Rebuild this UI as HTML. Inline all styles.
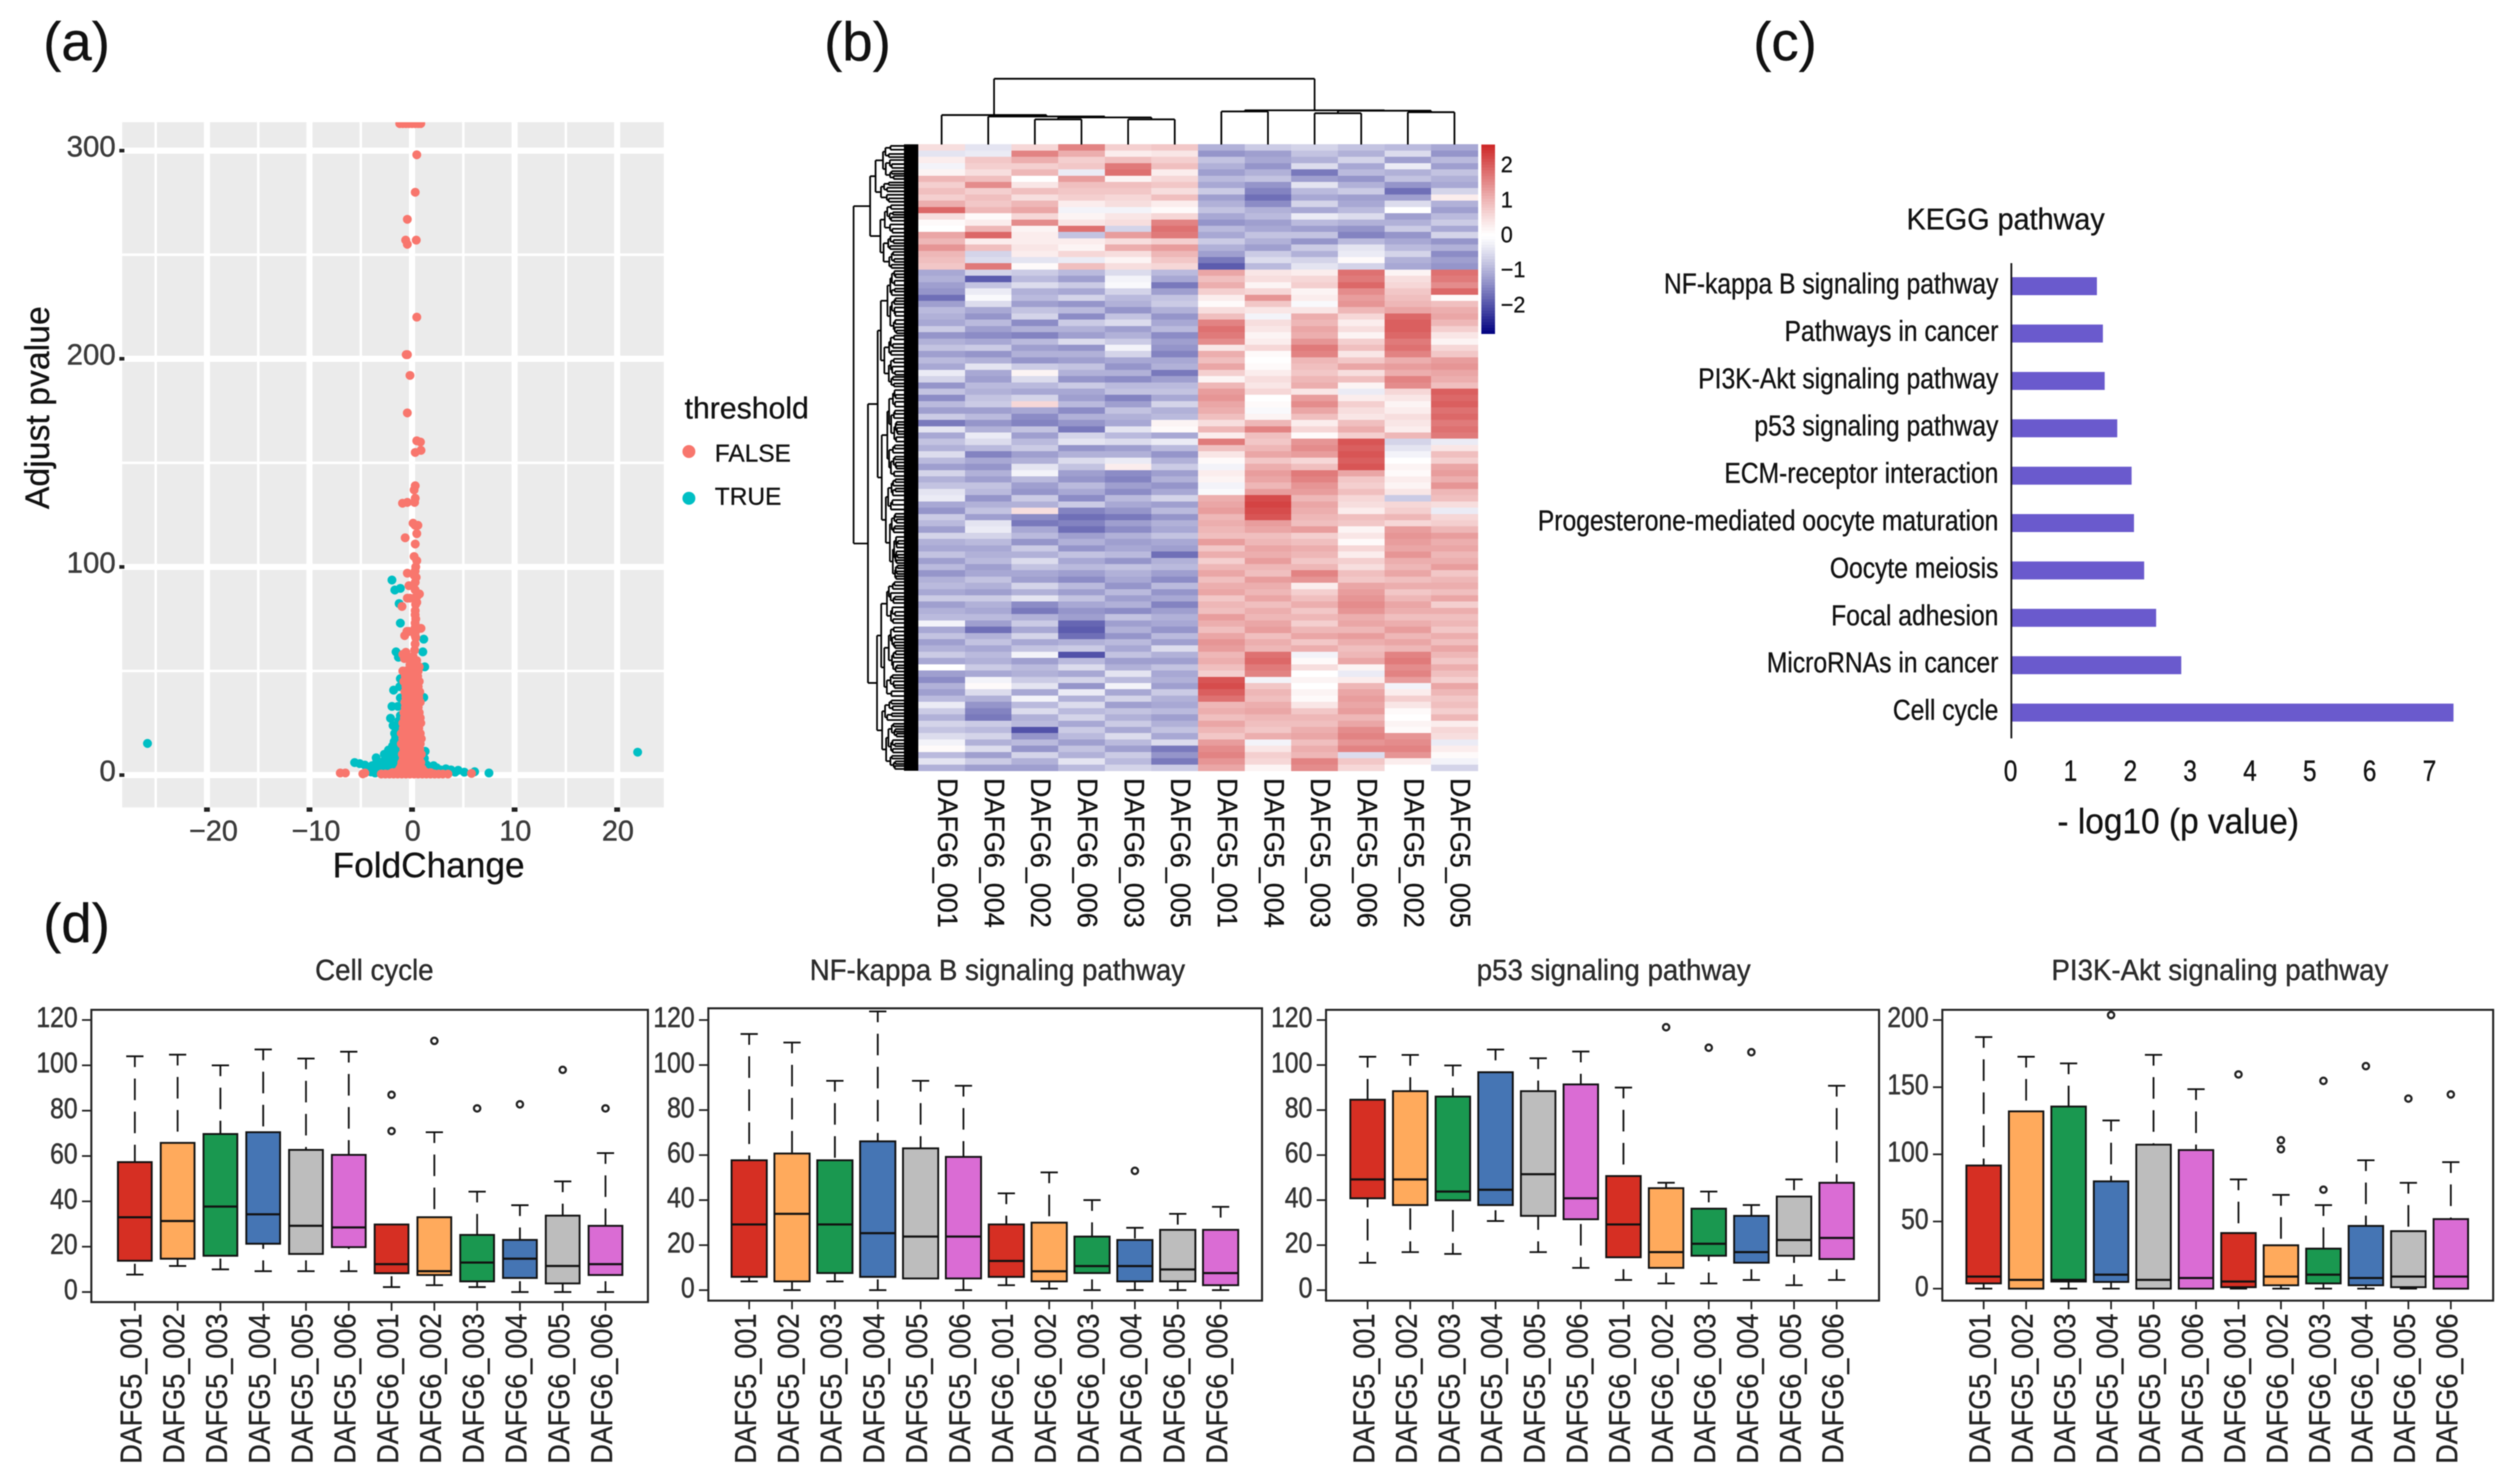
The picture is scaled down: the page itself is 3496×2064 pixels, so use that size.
<!DOCTYPE html>
<html lang="en">
<head>
<meta charset="utf-8">
<title>Differential expression figure panels a to d</title>
<style>
html,body{margin:0;padding:0;background:#fff;}
svg{display:block;font-family:"Liberation Sans",Arial,sans-serif;filter:blur(0.7px);}
text{stroke:#222;stroke-width:0.45px;}
</style>
</head>
<body>
<svg id="fig" xmlns="http://www.w3.org/2000/svg" width="3496" height="2064" viewBox="0 0 3496 2064">
  <rect x="0" y="0" width="3496" height="2064" fill="#ffffff"/>
  <defs>
    <clipPath id="volcano-clip"><rect x="170" y="170" width="753" height="953"/></clipPath>
  </defs>
  <text x="60" y="84" font-size="76" fill="#111">(a)</text>
  <text x="1146" y="84" font-size="76" fill="#111">(b)</text>
  <text x="2438" y="84" font-size="76" fill="#111">(c)</text>
  <text x="60" y="1310" font-size="76" fill="#111">(d)</text>

  <g id="panel-a">
    <rect x="170" y="170" width="753" height="953" fill="#ebebeb"/>
    <g id="a-grid"></g>
    <g id="a-true" clip-path="url(#volcano-clip)"></g>
    <g id="a-false" clip-path="url(#volcano-clip)"></g>
    <g id="a-axes"></g>
    <text x="596" y="1220" font-size="49" fill="#111" text-anchor="middle">FoldChange</text>
    <text transform="translate(68,567) rotate(-90)" font-size="47" fill="#111" text-anchor="middle">Adjust pvalue</text>
    <text x="952" y="582" font-size="42" fill="#111">threshold</text>
    <circle cx="958" cy="628" r="9" fill="#F8766D"/>
    <text x="994" y="642" font-size="34" fill="#111">FALSE</text>
    <circle cx="958" cy="693" r="9" fill="#00BFC4"/>
    <text x="994" y="702" font-size="34" fill="#111">TRUE</text>
  </g>

  <g id="panel-b">
    <g id="b-cells" shape-rendering="crispEdges"></g>
    <g id="b-left-dendro"></g>
    <g id="b-top-dendro"></g>
    <g id="b-labels"></g>
    <g id="b-colorbar" shape-rendering="crispEdges"></g>
    <g id="b-colorbar-labels"></g>
  </g>

  <g id="panel-c">
    <text transform="translate(2789,319) scale(1,1.05)" font-size="40" fill="#111" text-anchor="middle">KEGG pathway</text>
    <g id="c-bars"></g>
    <line x1="2797" x2="2797" y1="366" y2="1027" stroke="#111" stroke-width="2.5"/>
    <g id="c-ticks"></g>
    <text transform="translate(3029,1159) scale(1,1.05)" font-size="46.5" fill="#111" text-anchor="middle">- log10 (p value)</text>
  </g>

  <g id="panel-d"></g>
</svg>
<script>
// ---------- Panel (a): volcano data, pairs of [fold change, adjusted p value] ----------
const volcanoTrue = [
[-25.8,15.2],[22,11],[-1.96,93.7],[-1.68,88.9],[-1.14,89.7],[-1.26,82.4],[-1.14,73],[1.14,65.3],[-1.56,59.2],[-1.33,56.6],
[1.05,59.2],[1.24,52],[-1.14,46.3],[-1.8,40.8],[-1.2,42.5],[-1.14,37.1],[1.14,37.3],[-1.96,33],[-1.37,33],[-1.14,28.6],
[-2.1,27.3],[-1.85,23.8],[-1.7,20],[-1.4,20],[-1.75,16],[-1.4,16],[-1.2,16],[-1.8,12],[-1.5,12],[-1.2,12],
[-2.3,9],[-1.9,9],[-1.5,9],[-1.2,9],[-2.4,6],[-2,6],[-1.6,6],[-1.2,6],[-2.5,3],[-2,3],[-1.6,3],
[-2.7,10],[-2.7,7],[-2.9,4],[-3.2,5],[-4,1.5],[-3.9,4.5],[-4.3,2.5],[-2.3,12],[-1.9,14],[-1.6,18],[-2.2,1.5],[-2.8,1.5],[-1.5,23],[-1.3,26],
[-3.5,8.3],[-3.5,5.7],[-5.6,6],[-4.6,4.8],[-3.8,2.8],[-3.3,2.8],[-3.6,1],[-2.9,1.5],[-5.1,5.5],[-4.2,3.5],
[1.28,11.4],[1.4,5],[1.2,8],[2.1,4.5],[1.7,3.5],[2.8,2.5],[3.8,2.5],[4.5,2.3],[4.2,1.4],[5.1,1.4],[6.1,1.6],[7.5,1],[3.3,3],[2.4,3.5]
];
const volcanoFalse = [
[-1.2,313],[-0.9,313],[-0.6,313],[-0.3,313],[0,313],[0.3,313],[0.6,313],[0.85,313],
[0.46,298],[0.31,280],[-0.46,267],[0.41,257],[-0.62,257],[-0.46,255],[0.46,220],[-0.57,202],[-0.45,202],[-0.2,192],[-0.46,174],
[0.46,160.6],[0.82,160],[0.31,155],[0.87,156],[0.31,139],[0.2,137],[0.31,133],[0.25,131],[-0.93,130.6],[-0.46,131],
[0.1,121],[0.3,120],[0.57,120],[0.46,116],[-0.67,114],[0.31,111],[0.2,105],[0.46,103],[0.36,100],[-0.46,97],[0.2,96],[0.31,92.6],[-0.3,91],
[0.72,87],[0.5,86],[-0.46,85],[-0.2,85],[0.2,85],[0.46,83],[-0.98,81],[0.31,79],[0.36,75],[0.31,71],[0.87,70.5],[-0.3,69],[-0.72,67],[-0.5,69],
[0.3,98],[0.4,95],[0.3,89],[0.35,82],[0.3,77],[0.3,73],[0.35,69],[0.3,67],
[0.36,66],[0.3,63],[0.25,60],[-0.9,58],[-0.6,59],[-0.35,56],[-0.75,56],[0.45,55],[0.1,57],[0.7,52],[-0.2,53],[0.2,54],
[-0.9,50],[-0.6,50],[-0.3,50],[0,50],[0.3,50],[0.6,50],
[-0.65,47.5],[-0.35,47.5],[-0.05,47.5],[0.25,47.5],[0.55,47.5],
[-0.8,45],[-0.5,45],[-0.2,45],[0.1,45],[0.4,45],[0.7,45],
[-0.6,42.5],[-0.3,42.5],[0,42.5],[0.3,42.5],[0.6,42.5],
[-0.7,40],[-0.4,40],[-0.1,40],[0.2,40],[0.5,40],[0.75,40],
[-0.6,37.5],[-0.3,37.5],[0,37.5],[0.3,37.5],[0.65,37.5],
[-0.7,35],[-0.4,35],[-0.1,35],[0.2,35],[0.5,35],[0.8,35],
[-0.65,32.5],[-0.35,32.5],[-0.05,32.5],[0.3,32.5],[0.6,32.5],
[-0.8,30],[-0.5,30],[-0.2,30],[0.1,30],[0.4,30],[0.7,30],
[-0.75,27.5],[-0.45,27.5],[-0.15,27.5],[0.2,27.5],[0.5,27.5],[0.8,27.5],
[-0.9,25],[-0.6,25],[-0.3,25],[0,25],[0.3,25],[0.6,25],[0.85,25],
[-0.85,22.5],[-0.55,22.5],[-0.25,22.5],[0.05,22.5],[0.35,22.5],[0.65,22.5],
[-1.05,20],[-0.7,20],[-0.4,20],[-0.1,20],[0.2,20],[0.5,20],[0.8,20],
[-0.9,17.5],[-0.55,17.5],[-0.25,17.5],[0.05,17.5],[0.35,17.5],[0.65,17.5],[0.9,17.5],
[-1.05,15],[-0.7,15],[-0.4,15],[-0.1,15],[0.2,15],[0.5,15],[0.8,15],
[-0.8,12.5],[-0.45,12.5],[-0.15,12.5],[0.15,12.5],[0.45,12.5],[0.75,12.5],
[-0.95,10],[-0.6,10],[-0.3,10],[0,10],[0.3,10],[0.6,10],[0.9,10],
[-0.85,8],[-0.55,8],[-0.25,8],[0.05,8],[0.35,8],[0.7,8],
[-1,6],[-0.7,6],[-0.4,6],[-0.1,6],[0.2,6],[0.5,6],[0.85,6],
[-1.05,4.5],[-0.65,4.5],[-0.3,4.5],[0,4.5],[0.35,4.5],[0.75,4.5],
[-1.2,3],[-0.8,3],[-0.5,3],[-0.2,3],[0.1,3],[0.4,3],[0.7,3],[1,3],
[-1.9,1.2],[-1.5,1.5],[-1.1,1.5],[-0.7,1.5],[-0.3,1.5],[0.1,1.5],[0.5,1.5],[0.9,1.5],[1.3,1.5],[1.8,1.2],
[-3,0.5],[-2.6,0.5],[-2.2,0.5],[-1.8,0.5],[-1.4,0.5],[-1,0.5],[-0.6,0.5],[-0.2,0.5],[0.2,0.5],[0.6,0.5],[1,0.5],[1.4,0.5],[1.8,0.5],[2.2,0.5],[2.6,0.5],[3,0.5],[3.5,0.5],
[-7,1],[-6.5,1],[-4.6,1],[-4.8,0.6],[5.8,0.8]
];
const volcanoXTicks = [-20,-10,0,10,20];
const volcanoXMinor = [-25,-15,-5,5,15];
const volcanoYTicks = [0,100,200,300];
const volcanoYMinor = [50,150,250];

// ---------- Panel (b): heatmap z-scores ----------
const heatmapColumns = ['DAFG6_001','DAFG6_004','DAFG6_002','DAFG6_006','DAFG6_003','DAFG6_005','DAFG5_001','DAFG5_004','DAFG5_003','DAFG5_006','DAFG5_002','DAFG5_005'];
const heatmapRows = [
[.5,-.4,.6,1.6,.7,.8,-1.0,-.7,-.6,-.8,-.9,-1.1],
[-.4,-.3,1.6,1.1,.3,.4,-1.3,-1.2,-.8,-1.0,-.5,-1.3],
[.3,.8,1.1,.7,.9,.7,-.8,-1.1,-1.0,-.6,-1.2,-.9],
[-.2,.7,.7,.8,1.7,.9,-1.0,-1.3,-.5,-1.1,-.3,-1.2],
[.2,.5,1.0,-.3,1.8,.3,-1.2,-1.0,-1.6,-.9,-1.0,-.8],
[1.0,.9,.0,1.3,.2,.6,-.9,-.8,-1.2,-1.3,-.8,-1.0],
[.7,1.5,.4,.9,.9,.8,-1.1,-1.3,-.4,-1.0,-1.3,-1.1],
[.9,.7,.9,.8,.8,.5,-.7,-1.5,-.9,-.7,-1.7,-.6],
[.7,.9,.5,.7,.6,.9,-1.2,-1.7,-1.1,-1.2,-1.2,.3],
[1.1,.8,1.0,.3,.5,.3,-1.0,-1.4,-.6,-1.1,-.5,-1.0],
[1.9,1.0,1.2,-.2,-.2,.1,-.8,-1.0,-1.1,-.9,.0,-1.2],
[.5,.1,.6,.2,.4,.6,-1.1,-.9,-.3,-.5,-1.2,-.9],
[.1,.3,1.5,.4,.5,1.6,-1.3,-1.2,-.9,-1.0,-1.0,-.7],
[.0,1.0,.2,1.8,-.6,1.8,-.9,-1.1,-1.2,-1.3,-.7,-1.1],
[1.2,1.9,.3,-.8,1.3,1.7,-1.1,-.8,-.8,-1.5,-1.3,-.6],
[1.0,.3,.3,.3,.5,.7,-.7,-1.0,-1.3,-.9,-1.1,-1.3],
[1.4,.9,.4,.2,1.1,1.3,-1.0,-1.2,-.7,-.4,-.9,-1.0],
[1.0,-.6,.3,.6,.5,1.0,-1.2,-.7,-1.0,-.3,-.6,-1.4],
[.9,-.5,-.4,-.3,.2,.8,-1.6,-.5,-.6,.1,-1.0,-1.2],
[.8,1.7,.1,.9,.5,.6,-1.9,-.9,-.4,-.6,-1.1,-1.3],
[-1.1,-.6,-.7,-.9,-.5,-.9,1.2,.4,.3,1.8,.2,1.8],
[-1.0,-1.9,-.9,-1.2,-.2,-1.1,.9,.5,.6,1.7,.5,1.7],
[-1.2,-.8,-.5,-.7,-.1,-1.6,1.1,.2,.7,1.9,.6,1.5],
[-1.3,-.3,-1.0,-1.1,-.6,-1.2,.7,.6,.2,1.5,.8,1.9],
[-1.7,-.1,-.9,-.6,-.9,-.8,.3,1.4,.3,1.3,.9,.1],
[-1.2,-.5,-1.2,-1.3,-1.0,-.7,.1,.8,-.1,1.4,1.0,.9],
[-.9,-1.1,-.8,-.9,-1.3,-1.0,.5,.4,.4,1.0,1.2,1.1],
[-1.0,-1.3,-.6,-1.4,-.8,-1.3,.9,-.2,1.1,.6,1.9,1.2],
[-1.1,-.9,-1.4,-.7,-.5,-1.1,1.6,.5,1.0,.3,2.0,1.0],
[-.7,-1.2,-1.0,-1.0,-1.2,-.9,1.8,.4,1.2,.5,2.0,.7],
[-1.3,-1.4,-1.5,-1.2,-1.0,-1.4,1.7,.2,1.1,.2,1.9,.4],
[-1.0,-1.1,-.9,-.5,-.7,-1.2,1.5,.3,1.4,.7,1.7,.2],
[-.8,-.7,-1.2,-1.3,-.2,-1.3,.4,.6,1.7,.9,1.8,.6],
[-1.2,-1.3,-1.0,-1.0,-.6,-1.5,1.1,.1,1.6,.4,1.6,.8],
[-.9,-1.0,-1.3,-1.2,-1.1,-1.1,.9,.0,1.0,.8,1.1,1.3],
[-1.1,-.4,-.7,-.8,-1.3,-1.0,1.2,.1,.9,1.2,1.3,1.4],
[-.3,-1.1,.2,-1.0,-1.0,-1.6,.7,.3,.8,.5,1.1,1.2],
[-.6,-1.2,-.5,-1.3,-1.4,-1.2,.2,.5,1.0,.9,1.6,1.1],
[-1.3,-.9,-.9,-.7,-.9,-.9,1.0,.4,1.1,.2,1.5,.9],
[-.8,-1.0,-1.1,-1.1,-.8,-.8,1.3,.6,.4,-.3,.6,2.0],
[-1.4,-.8,-.6,-1.2,-1.5,-1.1,1.4,.0,1.3,.3,.4,1.9],
[-.9,-.7,.6,-.9,-1.2,-.6,1.2,.1,1.5,.7,.2,2.0],
[-1.2,-1.2,-1.1,-1.4,-.8,-1.0,1.1,-.1,1.2,.5,.3,1.8],
[-.7,-.9,-1.4,-1.0,-1.0,-.9,.9,.2,.9,.4,.5,1.9],
[-1.6,-1.3,-1.5,-1.3,-1.1,.2,.5,1.0,.3,.9,.4,1.7],
[-.4,-1.0,-.8,-1.6,-.4,.1,1.0,1.6,.6,1.1,.3,1.8],
[-1.1,-.3,-1.2,-.6,-.9,-1.1,.3,.9,.1,.7,1.0,1.7],
[-.8,-.5,-.9,-.4,-.5,-.3,1.7,.8,1.4,2.1,-.6,-.3],
[-1.0,-.9,-.7,-1.3,-1.2,-.9,.9,1.0,1.5,2.0,-.4,.4],
[-.5,-1.5,-1.2,-1.0,-1.0,-1.3,.4,1.2,1.3,2.1,-.2,.9],
[-.9,-1.1,-1.0,-.5,-.3,-1.0,.1,.8,.6,2.0,.0,.7],
[-1.2,-1.3,-.4,-.8,.3,-.7,-.2,1.1,.9,2.1,.2,1.2],
[-.6,-1.0,-.2,-1.2,-1.4,-1.2,.3,1.3,1.7,1.2,.1,1.3],
[-1.0,-1.2,-.9,-1.3,-1.5,-1.0,.2,1.2,1.6,.8,.3,1.1],
[-.8,-.8,-1.2,-.9,-1.2,-1.3,-.2,1.0,1.4,.7,.2,1.4],
[-.4,-.9,-1.3,-1.1,-1.4,-1.1,-.1,1.3,1.3,.9,.4,1.0],
[-.3,-1.3,-.7,-1.4,-.9,-.6,1.1,2.2,1.0,.6,-.7,.9],
[-1.1,-1.0,-1.0,-.7,-1.1,-1.2,1.2,2.3,1.2,.5,.6,.5],
[-1.3,-.8,.5,-1.5,-1.3,-.9,1.3,2.2,1.1,.3,.7,-.3],
[-.7,-1.2,-1.4,-1.7,-1.6,-1.3,1.0,2.1,1.0,.9,1.0,.6],
[-.9,-.4,-1.6,-1.5,-1.2,-1.0,1.1,1.3,.9,.8,.6,.7],
[-1.2,-.3,-1.1,-1.7,-1.4,-1.1,1.0,1.2,1.3,.2,1.3,1.0],
[-.6,-.6,-.9,-1.2,-1.0,-.8,.9,.9,.7,.4,1.4,1.3],
[-1.0,-.9,-1.3,-1.0,-1.2,-1.1,1.3,1.0,.9,.1,1.3,1.1],
[-1.1,-1.1,-.7,-1.3,-1.1,-1.2,.8,1.2,1.1,.6,1.2,1.2],
[-.8,-1.0,-1.0,-.8,-.9,-1.7,1.1,1.1,1.0,.3,1.4,1.0],
[-1.2,-.9,-.5,-1.1,-1.3,-1.0,.7,1.3,.8,.7,1.1,1.1],
[-.9,-1.2,-.8,-.9,-.8,-.9,1.0,1.0,1.0,.5,1.0,1.3],
[-1.3,-1.1,-1.1,-1.2,-1.0,-1.2,1.2,.9,1.6,.9,1.2,.8],
[-1.0,-.8,-1.2,-1.4,-1.1,-1.4,.9,1.3,1.4,.8,.9,1.0],
[-.9,-1.0,-.6,-.9,-1.3,-.9,1.1,1.1,.3,1.2,1.1,1.1],
[-1.1,-1.2,-1.0,-1.2,-.9,-1.3,1.2,1.0,.7,1.3,.8,.9],
[-.7,-.7,-.4,-.8,-1.2,-1.1,.8,1.2,.9,1.4,1.0,1.2],
[-1.2,-1.0,-1.4,-1.1,-1.0,-1.5,1.0,.9,1.1,1.5,1.2,.7],
[-1.0,-1.1,-1.6,-1.3,-1.4,-1.2,.9,1.1,.8,1.4,1.1,1.1],
[-.9,-.9,-1.0,-1.2,-.8,-1.0,1.3,1.0,1.0,1.1,.9,.9],
[-.2,-1.2,-.7,-1.8,-1.2,-1.1,1.1,1.2,.7,1.2,1.1,1.0],
[-1.1,-1.7,-1.1,-1.9,-1.0,-1.3,.9,1.3,1.0,1.0,1.3,.8],
[-.8,-1.0,-.6,-1.7,-1.3,-.9,1.2,.9,1.2,1.3,1.0,1.1],
[-1.2,-.8,-1.1,-1.0,-.9,-1.2,1.4,1.1,.8,1.1,1.2,.9],
[-1.0,-1.1,-.8,-.7,-1.1,-.5,1.3,1.0,1.1,.9,1.0,1.2],
[-.7,-.9,-.2,-2.0,-.8,-1.0,1.0,1.8,-.2,1.0,1.6,1.0],
[-1.1,-1.0,-1.2,-.9,-1.2,-1.2,1.1,1.9,.1,1.2,1.7,.8],
[.0,-.7,-.9,-.5,-1.0,-.8,.9,1.7,.5,.2,1.5,1.1],
[-1.2,-1.1,-1.0,-1.1,-.4,-1.1,.7,1.6,.0,-.3,1.6,.9],
[-1.4,-.2,-.7,-.6,-.9,-1.0,2.1,-.2,.2,.3,1.3,.7],
[-1.0,.1,-.4,-1.3,-.2,-1.2,2.2,.8,.0,1.0,-.2,1.2],
[-1.2,-.5,-1.1,-.3,-1.1,-.7,2.0,1.0,.2,1.2,.3,1.0],
[-.9,-1.0,-.2,-1.0,-.6,-1.0,1.8,.9,.1,1.3,.7,.8],
[-.3,-1.3,-.9,-.5,-1.2,-1.1,1.0,1.1,.4,1.2,.4,.9],
[-.7,-1.5,-.5,-.9,-.8,-.9,1.1,1.2,.8,1.3,.1,.7],
[-1.0,-1.6,-1.0,-.6,-1.0,-1.2,.9,1.0,1.0,1.0,.0,1.0],
[-.6,-.7,-.9,-1.1,-.7,-1.0,1.2,.9,.9,1.2,.2,.3],
[-.8,-.9,-2.0,-.7,-1.1,-.8,1.0,.8,1.1,1.5,.1,.6],
[-.5,-.6,-1.3,-.9,-.5,-1.1,.8,1.1,1.2,1.6,1.4,.5],
[-.2,-1.0,-.9,-1.2,-.9,-.5,1.3,-.2,.9,1.4,1.5,-.3],
[.1,-.5,-1.3,-.8,-1.2,-1.6,1.5,.4,1.1,1.6,1.6,.3],
[-.9,-1.2,-.6,-1.0,-.7,-1.3,1.6,.7,1.0,-.5,1.4,.1],
[-.4,-.7,-1.0,-.4,-.9,-1.6,1.4,.6,1.6,.8,.3,-.2],
[-1.0,-1.2,-1.2,-.9,-.6,-.7,1.2,.2,1.5,.6,.0,-.6]
];
const colorbarTicks = [2,1,0,-1,-2];
// column tree: [left child, right child, merge height]; integers are column indices
const columnTree = [
  [0,[1,[[2,3,35],[4,5,35],37.7],39],41],
  [[6,7,46],[[8,9,43.5],[10,11,45],47],47.6],
  91.5
];
const rowTreeSplits = [.47,.62,.38,.55,.42,.66,.5,.33,.58];
const rowTreeReach = [.18,.3,.14,.34,.22,.16,.28];

// ---------- Panel (c): KEGG enrichment ----------
const keggPathways = ['NF-kappa B signaling pathway','Pathways in cancer','PI3K-Akt signaling pathway','p53 signaling pathway','ECM-receptor interaction','Progesterone-mediated oocyte maturation','Oocyte meiosis','Focal adhesion','MicroRNAs in cancer','Cell cycle'];
const keggLog10P = [1.43,1.53,1.56,1.77,2.01,2.05,2.22,2.42,2.84,7.39];
const keggTicks = [0,1,2,3,4,5,6,7];

// ---------- Panel (d): boxplot statistics ----------
const boxSamples = ['DAFG5_001','DAFG5_002','DAFG5_003','DAFG5_004','DAFG5_005','DAFG5_006','DAFG6_001','DAFG6_002','DAFG6_003','DAFG6_004','DAFG6_005','DAFG6_006'];
const boxColors = ['#d62f23','#ffaa5c','#1a9850','#4575b4','#bdbdbd','#da6cd4','#d62f23','#ffaa5c','#1a9850','#4575b4','#bdbdbd','#da6cd4'];

const cellCycleLow = [7.7,11.5,10,9.2,9.2,9.2,2.2,3,2.2,0,0,0];
const cellCycleQ1 = [13.8,14.7,16,21.3,16.8,19.8,8.3,7.5,4.7,6.2,3.8,7.5];
const cellCycleMedian = [33,31.3,37.7,34.3,29.2,28.5,12.3,9.2,13,14.7,11.5,12.3];
const cellCycleQ3 = [57.3,65.8,69.7,70.5,62.7,60.5,29.8,33,25.2,23,33.7,29.2];
const cellCycleHigh = [104,104.7,100,107,103,106,29.8,70.5,44.3,38.3,48.8,61.3];
const cellCycleOutliers = [[],[],[],[],[],[],[87,71],[110.8],[81],[82.8],[98],[81]];

const nfkbLow = [3.9,0,3.9,0,5.2,0,2.2,0.7,0,0,0,0];
const nfkbQ1 = [5.9,3.9,7.6,5.9,5.2,5.2,5.9,3.9,7.6,3.9,3.9,2.2];
const nfkbMedian = [29.2,33.9,29.2,25.3,23.8,23.8,13,8.4,10.7,10.7,9.2,7.6];
const nfkbQ3 = [57.7,60.7,57.7,66.1,63,59.2,29.2,30,23.8,22.3,26.8,26.8];
const nfkbHigh = [113.8,110,93,123.8,93,90.8,43,52.3,40,27.7,33.9,37];
const nfkbOutliers = [[],[],[],[],[],[],[],[],[],[53],[],[]];

const p53Low = [12.2,16.9,16.1,30.7,16.9,9.9,4.5,3,3,4.5,2.2,4.5];
const p53Q1 = [40.8,37.8,39.9,37.8,33,31.5,14.6,9.9,15.3,12.2,15.3,13.8];
const p53Median = [49.2,49.2,43.8,44.6,51.5,40.8,29.2,16.9,20.6,16.9,22.3,23.2];
const p53Q3 = [84.6,88.4,86,96.8,88.4,91.4,50.7,45.3,36.2,33,41.6,47.7];
const p53High = [103.7,104.5,99.8,106.9,103,106,90,47.7,43.8,37.8,49.2,90.8];
const p53Outliers = [[],[],[],[],[],[],[],[116.8],[107.7],[105.7],[],[]];

const pi3kLow = [0,0,0,0,0,0,0,0,0,0,0,0];
const pi3kQ1 = [3.9,0,5.3,5,0,0,1.1,2.5,3.9,2.5,1.1,0];
const pi3kMedian = [9,6.5,6.5,10.4,6.5,7.9,5.3,9,10.4,7.9,9,9];
const pi3kQ3 = [91.7,132,135.6,79.9,107.2,103.2,41.4,32.3,29.8,46.7,42.8,51.8];
const pi3kHigh = [187.3,172.7,167.7,125.2,174.1,148.5,81.3,69.8,62.2,95.6,78.8,94.2];
const pi3kOutliers = [[],[],[],[203.7],[],[],[159.5],[110.5,103.8],[154.7,73.7],[165.7],[141.5],[144.6]];

const tickCount120 = [0,20,40,60,80,100,120];
const tickCount200 = [0,50,100,150,200];

// ---------- helpers ----------
const NS = 'http://www.w3.org/2000/svg';
function mk(parent, tag, attrs) {
  const node = document.createElementNS(NS, tag);
  for (const k in attrs) node.setAttribute(k, attrs[k]);
  parent.appendChild(node);
  return node;
}
function label(parent, str, x, y, size, anchor, rot, sy, fill) {
  const node = mk(parent, 'text', {
    transform: 'translate(' + x + ',' + y + ') rotate(' + rot + ') scale(1,' + sy + ')',
    'font-size': size, 'text-anchor': anchor, fill: fill
  });
  node.textContent = str;
  return node;
}
const $ = id => document.getElementById(id);
let el;

// ---------- Panel (a) ----------
const volX = v => 573 + v * 14.26;
const volY = v => 1078 - v * 2.895;
const aGrid = $('a-grid'), aAxes = $('a-axes');
volcanoXMinor.forEach(v => {
  el = mk(aGrid, 'line', {x1: volX(v), x2: volX(v), y1: 170, y2: 1123, stroke: '#fff', 'stroke-width': 3.5});
  
  
});
volcanoYMinor.forEach(v => {
  el = mk(aGrid, 'line', {x1: 170, x2: 923, y1: volY(v), y2: volY(v), stroke: '#fff', 'stroke-width': 3.5});
  
  
});
volcanoXTicks.forEach(v => {
  el = mk(aGrid, 'line', {x1: volX(v), x2: volX(v), y1: 170, y2: 1123, stroke: '#fff', 'stroke-width': 8.5});
  
  
  el = mk(aAxes, 'rect', {x: volX(v) - 4, y: 1123, width: 8, height: 6, fill: '#222'});
  
  
  el = label(aAxes, v < 0 ? '\u2212' + Math.abs(v) : String(v), volX(v) + (v < 0 ? 9 : 1), 1169, 40, 'middle', 0, 1, '#3c3c3c');
  
  
});
volcanoYTicks.forEach(v => {
  el = mk(aGrid, 'line', {x1: 170, x2: 923, y1: volY(v), y2: volY(v), stroke: '#fff', 'stroke-width': 8.5});
  
  
  el = mk(aAxes, 'rect', {x: 166, y: volY(v) - 2.5, width: 7, height: 5, fill: '#222'});
  
  
  el = label(aAxes, String(v), 161, volY(v) + 8, 41, 'end', 0, 1, '#3c3c3c');
  
  
});
volcanoTrue.forEach(d => {
  el = mk($('a-true'), 'circle', {cx: volX(d[0]), cy: volY(d[1]), r: 6.2, fill: '#00BFC4'});
  
  
});
volcanoFalse.forEach(d => {
  el = mk($('a-false'), 'circle', {cx: volX(d[0]), cy: volY(d[1]), r: 6.2, fill: '#F8766D'});
  
  
});

// ---------- Panel (b) ----------
const hmLeft = 1277, hmTop = 200.7, hmCellW = 778 / 12, hmRowH = 871.3 / heatmapRows.length;
const colX = i => hmLeft + (i + 0.5) * hmCellW;
function heatColor(v) {
  const mix = (a, b, t) => Math.round(a + (b - a) * t);
  if (v >= 0) {
    const t = Math.pow(Math.min(v / 2.6, 1), 1.15);
    return 'rgb(' + mix(255, 205, t) + ',' + mix(255, 38, t) + ',' + mix(255, 38, t) + ')';
  }
  const t = Math.pow(Math.min(-v / 2.8, 1), 1.15);
  return 'rgb(' + mix(255, 0, t) + ',' + mix(255, 0, t) + ',' + mix(255, 128, t) + ')';
}
heatmapRows.forEach((row, r) => {
  row.forEach((v, c) => {
    el = mk($('b-cells'), 'rect', {x: hmLeft + c * hmCellW, y: hmTop + r * hmRowH, width: hmCellW + 0.5, height: hmRowH + 0.5, fill: heatColor(v)});
    
    
  });
});
heatmapColumns.forEach((name, i) => {
  el = label($('b-labels'), name, colX(i) - 5, 1082, 37.5, 'start', 90, 1.05, '#111');
  
  
});
// colorbar
const cbZero = 326, cbUnit = 48.7;
const cbTop = 201, cbBottom = 464, cbSlices = 66;
for (let i = 0; i < cbSlices; i++) {
  const y = cbTop + i * (cbBottom - cbTop) / cbSlices;
  el = mk($('b-colorbar'), 'rect', {x: 2060, y: y, width: 19, height: (cbBottom - cbTop) / cbSlices + 0.5, fill: heatColor((cbZero - y) / cbUnit)});
  
  
}
colorbarTicks.forEach(v => {
  el = label($('b-colorbar-labels'), v < 0 ? '\u2212' + Math.abs(v) : String(v), 2087, cbZero - v * cbUnit + 11, 30, 'start', 0, 1.05, '#111');
  
  
});
// row dendrogram
const leafX = 1258;
mk($('b-left-dendro'), 'rect', {x: 1257, y: hmTop, width: 20, height: 871.3, fill: '#000'});
let splitI = 0, reachI = 0;
function dline(x1, y1, x2, y2) {
  el = mk($('b-left-dendro'), 'line', {x1: x1, y1: y1, x2: x2, y2: y2, stroke: '#000', 'stroke-width': 2.4});
  
  
}
function rowNode(y0, y1, x) {
  const s = rowTreeSplits[splitI++ % rowTreeSplits.length];
  const mid = y0 + (y1 - y0) * s;
  const child = (a, b) => {
    if (b - a < 7) return [(a + b) / 2, leafX];
    const cx = x + (leafX - 6 - x) * rowTreeReach[reachI++ % rowTreeReach.length];
    return [rowNode(a, b, cx), cx];
  };
  const top = child(y0, mid), bot = child(mid, y1);
  dline(x, top[0], x, bot[0]);
  dline(x, top[0], top[1], top[0]);
  dline(x, bot[0], bot[1], bot[0]);
  return (top[0] + bot[0]) / 2;
}
const upperY = rowNode(hmTop, hmTop + 20 * hmRowH, 1210);
const lowerY = rowNode(hmTop + 20 * hmRowH, hmTop + 871.3, 1207);
dline(1187, upperY, 1187, lowerY);
dline(1187, upperY, 1210, upperY);
dline(1187, lowerY, 1207, lowerY);
// column dendrogram
const treeY = h => 201 - h;
function colLine(x1, y1, x2, y2) {
  el = mk($('b-top-dendro'), 'line', {x1: x1, y1: y1, x2: x2, y2: y2, stroke: '#000', 'stroke-width': 2.4});
  
  
}
function colNode(n) {
  if (typeof n === 'number') return [colX(n), 0];
  const a = colNode(n[0]), b = colNode(n[1]);
  const y = treeY(n[2]);
  colLine(a[0], y, b[0], y);
  colLine(a[0], y, a[0], treeY(a[1]));
  colLine(b[0], y, b[0], treeY(b[1]));
  return [(a[0] + b[0]) / 2, n[2]];
}
colNode(columnTree);

// ---------- Panel (c) ----------
const keggX = v => 2797 + v * 83.2;
const keggY = i => 398 + i * 65.9;
keggPathways.forEach((name, i) => {
  el = mk($('c-bars'), 'rect', {x: keggX(0), y: keggY(i) - 12.5, width: keggX(keggLog10P[i]) - keggX(0), height: 25, fill: '#6a5acd'});
  
  
  el = label($('c-bars'), name, 2779, keggY(i) + 10, 34.3, 'end', 0, 1.15, '#111');
  
  
});
keggTicks.forEach(v => {
  el = label($('c-ticks'), String(v), keggX(v) - 1, 1086, 34, 'middle', 0, 1.2, '#111');
  
  
});

// ---------- Panel (d) ----------
function drawBoxPanel(p) {
  const g = mk($('panel-d'), 'g', {});
  
  
  const y = v => p.zero - v * p.unit;
  const x = i => p.firstX + i * p.stepX;

  el = label(g, p.title, p.titleX, 1363, 38.5, 'middle', 0, 1.05, '#2b2b2b');
  
  

  p.ticks.forEach(v => {
    el = mk(g, 'line', {x1: p.x0 - 13, x2: p.x0, y1: y(v), y2: y(v), stroke: '#222', 'stroke-width': 2.4});
    
    
    el = label(g, String(v), p.x0 - 19, y(v) + 10, 34.5, 'end', 0, 1.15, '#333');
    
    
  });

  boxSamples.forEach((name, i) => {
    const cx = x(i), hw = p.boxW / 2;
    if (p.high[i] > p.q3[i]) {
      el = mk(g, 'line', {x1: cx, x2: cx, y1: y(p.high[i]), y2: y(p.q3[i]), stroke: '#111', 'stroke-width': 2.5, 'stroke-dasharray': '30 16', 'stroke-dashoffset': 15});
      
      
      el = mk(g, 'line', {x1: cx - 12, x2: cx + 12, y1: y(p.high[i]), y2: y(p.high[i]), stroke: '#111', 'stroke-width': 2.5});
      
      
    }
    if (p.low[i] < p.q1[i]) {
      el = mk(g, 'line', {x1: cx, x2: cx, y1: y(p.low[i]), y2: y(p.q1[i]), stroke: '#111', 'stroke-width': 2.5, 'stroke-dasharray': '30 16', 'stroke-dashoffset': 15});
      
      
      el = mk(g, 'line', {x1: cx - 12, x2: cx + 12, y1: y(p.low[i]), y2: y(p.low[i]), stroke: '#111', 'stroke-width': 2.5});
      
      
    }
    el = mk(g, 'rect', {x: cx - hw, y: y(p.q3[i]), width: p.boxW, height: y(p.q1[i]) - y(p.q3[i]), fill: boxColors[i], stroke: '#111', 'stroke-width': 2.6});
    
    
    el = mk(g, 'line', {x1: cx - hw, x2: cx + hw, y1: y(p.median[i]), y2: y(p.median[i]), stroke: '#111', 'stroke-width': 3});
    
    
    p.outliers[i].forEach(v => {
      el = mk(g, 'circle', {cx: cx, cy: y(v), r: 4.4, fill: 'none', stroke: '#222', 'stroke-width': 3});
      
      
    });
    el = mk(g, 'line', {x1: cx, x2: cx, y1: p.y1, y2: p.y1 + 12, stroke: '#222', 'stroke-width': 2.4});
    
    
    el = label(g, name, cx + 9, 1827, 37.6, 'end', -90, 1.12, '#222');
    
    
  });

  el = mk(g, 'rect', {x: p.x0, y: p.y0, width: p.x1 - p.x0, height: p.y1 - p.y0, fill: 'none', stroke: '#222', 'stroke-width': 2.8});
  
  
}

drawBoxPanel({name: 'boxplot-cell-cycle', title: 'Cell cycle', titleX: 520.6,
  x0: 127, x1: 901, y0: 1404.5, y1: 1811, zero: 1797, unit: 3.153, firstX: 187.5, stepX: 59.5, boxW: 47, ticks: tickCount120,
  low: cellCycleLow, q1: cellCycleQ1, median: cellCycleMedian, q3: cellCycleQ3, high: cellCycleHigh, outliers: cellCycleOutliers});
drawBoxPanel({name: 'boxplot-nf-kappa-b', title: 'NF-kappa B signaling pathway', titleX: 1387,
  x0: 985, x1: 1755, y0: 1402.4, y1: 1809, zero: 1794.4, unit: 3.131, firstX: 1041.8, stepX: 59.6, boxW: 49, ticks: tickCount120,
  low: nfkbLow, q1: nfkbQ1, median: nfkbMedian, q3: nfkbQ3, high: nfkbHigh, outliers: nfkbOutliers});
drawBoxPanel({name: 'boxplot-p53', title: 'p53 signaling pathway', titleX: 2244,
  x0: 1844, x1: 2613, y0: 1404.5, y1: 1809, zero: 1794.4, unit: 3.131, firstX: 1901.8, stepX: 59.3, boxW: 48, ticks: tickCount120,
  low: p53Low, q1: p53Q1, median: p53Median, q3: p53Q3, high: p53High, outliers: p53Outliers});
drawBoxPanel({name: 'boxplot-pi3k-akt', title: 'PI3K-Akt signaling pathway', titleX: 3087,
  x0: 2701, x1: 3467, y0: 1404.5, y1: 1809, zero: 1792.3, unit: 1.868, firstX: 2758.5, stepX: 59.06, boxW: 48, ticks: tickCount200,
  low: pi3kLow, q1: pi3kQ1, median: pi3kMedian, q3: pi3kQ3, high: pi3kHigh, outliers: pi3kOutliers});
</script>
</body>
</html>
